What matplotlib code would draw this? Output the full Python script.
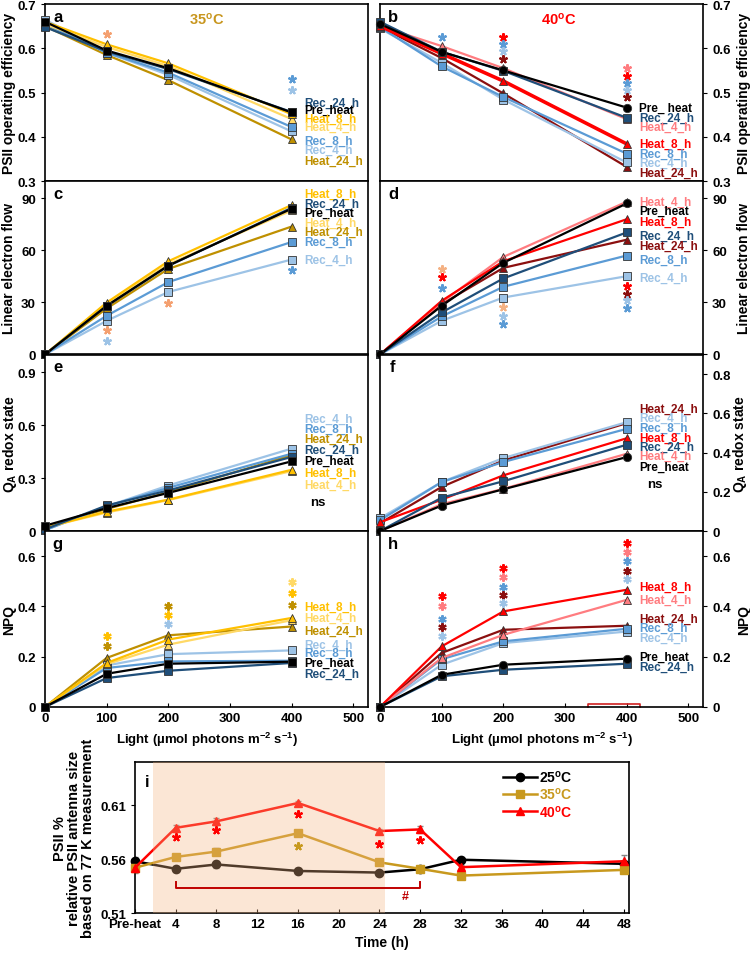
import numpy as np
import matplotlib.pyplot as plt
from matplotlib.ticker import FuncFormatter

plt.rcParams['font.family'] = ['Liberation Sans Narrow', 'Liberation Sans', 'DejaVu Sans']
plt.rcParams['font.weight'] = 'bold'
plt.rcParams['axes.labelweight'] = 'bold'
plt.rcParams['mathtext.default'] = 'regular'

light = [0, 100, 200, 400]

# ---- panel a / b : PSII operating efficiency
phi_35 = {
    'Pre_heat':  [0.660, 0.595, 0.555, 0.455],
    'Heat_4_h':  [0.655, 0.603, 0.560, 0.440],
    'Heat_8_h':  [0.660, 0.609, 0.566, 0.451],
    'Heat_24_h': [0.650, 0.585, 0.528, 0.394],
    'Rec_4_h':   [0.665, 0.590, 0.540, 0.412],
    'Rec_8_h':   [0.655, 0.590, 0.545, 0.422],
    'Rec_24_h':  [0.648, 0.593, 0.553, 0.456],
}
phi_40 = {
    'Pre_heat':  [0.655, 0.592, 0.550, 0.466],
    'Heat_4_h':  [0.650, 0.605, 0.555, 0.440],
    'Heat_8_h':  [0.650, 0.588, 0.526, 0.384],
    'Heat_24_h': [0.648, 0.578, 0.498, 0.332],
    'Rec_4_h':   [0.645, 0.567, 0.484, 0.342],
    'Rec_8_h':   [0.648, 0.559, 0.490, 0.362],
    'Rec_24_h':  [0.660, 0.592, 0.549, 0.443],
}
# ---- panel c / d : linear electron flow
lef_35 = {
    'Pre_heat':  [0, 28.0, 51.2, 84.0],
    'Heat_4_h':  [0, 29.0, 52.0, 83.0],
    'Heat_8_h':  [0, 29.9, 53.7, 86.1],
    'Heat_24_h': [0, 26.5, 49.3, 73.7],
    'Rec_4_h':   [0, 19.4, 36.0, 54.7],
    'Rec_8_h':   [0, 22.3, 41.7, 64.8],
    'Rec_24_h':  [0, 28.0, 51.0, 84.5],
}
lef_40 = {
    'Pre_heat':  [0, 28.0, 52.8, 87.0],
    'Heat_4_h':  [0, 30.0, 56.2, 88.0],
    'Heat_8_h':  [0, 30.9, 53.7, 77.9],
    'Heat_24_h': [0, 29.0, 49.9, 66.1],
    'Rec_4_h':   [0, 19.4, 32.8, 45.1],
    'Rec_8_h':   [0, 21.9, 39.0, 57.0],
    'Rec_24_h':  [0, 24.2, 43.8, 70.3],
}
# ---- panel e / f : QA redox state
qa_35 = {
    'Pre_heat':  [0.030, 0.130, 0.216, 0.395],
    'Heat_4_h':  [0.020, 0.105, 0.175, 0.340],
    'Heat_8_h':  [0.020, 0.110, 0.178, 0.347],
    'Heat_24_h': [0.025, 0.125, 0.220, 0.430],
    'Rec_4_h':   [0.005, 0.140, 0.258, 0.467],
    'Rec_8_h':   [0.005, 0.140, 0.245, 0.438],
    'Rec_24_h':  [0.010, 0.145, 0.230, 0.420],
}
qa_40 = {
    'Pre_heat':  [0.000, 0.130, 0.213, 0.377],
    'Heat_4_h':  [0.000, 0.137, 0.215, 0.394],
    'Heat_8_h':  [0.045, 0.160, 0.284, 0.473],
    'Heat_24_h': [0.040, 0.225, 0.360, 0.550],
    'Rec_4_h':   [0.065, 0.250, 0.372, 0.555],
    'Rec_8_h':   [0.055, 0.250, 0.352, 0.521],
    'Rec_24_h':  [0.000, 0.170, 0.254, 0.440],
}
# ---- panel g / h : NPQ
npq_35 = {
    'Pre_heat':  [0, 0.132, 0.172, 0.180],
    'Heat_4_h':  [0, 0.170, 0.248, 0.345],
    'Heat_8_h':  [0, 0.175, 0.268, 0.354],
    'Heat_24_h': [0, 0.195, 0.285, 0.320],
    'Rec_4_h':   [0, 0.165, 0.210, 0.225],
    'Rec_8_h':   [0, 0.155, 0.181, 0.184],
    'Rec_24_h':  [0, 0.115, 0.144, 0.175],
}
npq_40 = {
    'Pre_heat':  [0, 0.128, 0.168, 0.192],
    'Heat_4_h':  [0, 0.195, 0.287, 0.426],
    'Heat_8_h':  [0, 0.241, 0.380, 0.466],
    'Heat_24_h': [0, 0.215, 0.307, 0.323],
    'Rec_4_h':   [0, 0.168, 0.254, 0.300],
    'Rec_8_h':   [0, 0.190, 0.261, 0.311],
    'Rec_24_h':  [0, 0.122, 0.148, 0.172],
}

# label order (top to bottom) next to the 400 point and their heights
lab_a = [('Rec_24_h', 0.477), ('Pre_heat', 0.460), ('Heat_8_h', 0.441), ('Heat_4_h', 0.422),
         ('Rec_8_h', 0.392), ('Rec_4_h', 0.370), ('Heat_24_h', 0.345)]
lab_b = [('Pre_heat', 0.466), ('Rec_24_h', 0.443), ('Heat_4_h', 0.423), ('Heat_8_h', 0.384),
         ('Rec_8_h', 0.362), ('Rec_4_h', 0.342), ('Heat_24_h', 0.319)]
lab_c = [('Heat_8_h', 92.4), ('Rec_24_h', 86.7), ('Pre_heat', 81.7), ('Heat_4_h', 76.0),
         ('Heat_24_h', 70.5), ('Rec_8_h', 64.8), ('Rec_4_h', 54.7)]
lab_d = [('Heat_4_h', 88.0), ('Pre_heat', 82.9), ('Heat_8_h', 76.6), ('Rec_24_h', 68.4),
         ('Heat_24_h', 62.7), ('Rec_8_h', 54.7), ('Rec_4_h', 44.2)]
lab_e = [('Rec_4_h', 0.638), ('Rec_8_h', 0.577), ('Heat_24_h', 0.520), ('Rec_24_h', 0.463),
         ('Pre_heat', 0.397), ('Heat_8_h', 0.330), ('Heat_4_h', 0.264)]
lab_f = [('Heat_24_h', 0.625), ('Rec_4_h', 0.575), ('Rec_8_h', 0.524), ('Heat_8_h', 0.475),
         ('Rec_24_h', 0.428), ('Heat_4_h', 0.382), ('Pre_heat', 0.326)]
lab_g = [('Heat_8_h', 0.397), ('Heat_4_h', 0.354), ('Heat_24_h', 0.303), ('Rec_4_h', 0.248),
         ('Rec_8_h', 0.215), ('Pre_heat', 0.175), ('Rec_24_h', 0.132)]
lab_h = [('Heat_8_h', 0.477), ('Heat_4_h', 0.426), ('Heat_24_h', 0.350), ('Rec_8_h', 0.314),
         ('Rec_4_h', 0.274), ('Pre_heat', 0.199), ('Rec_24_h', 0.159)]

# significance asterisks (light, value, colour key)
star_a = [(100, 0.632, 'orange'), (400, 0.530, 'Rec_8_h'), (400, 0.506, 'Rec_4_h')]
star_b = [(100, 0.626, 'Rec_8_h'),
          (200, 0.626, 'Heat_8_h'), (200, 0.610, 'Rec_8_h'), (200, 0.593, 'Rec_4_h'), (200, 0.576, 'Heat_24_h'),
          (400, 0.555, 'Heat_4_h'), (400, 0.538, 'Heat_8_h'), (400, 0.521, 'Rec_8_h'),
          (400, 0.505, 'Rec_4_h'), (400, 0.490, 'Heat_24_h')]
star_c = [(100, 14.1, 'orange'), (100, 7.6, 'Rec_4_h'), (200, 29.5, 'orange'), (400, 48.6, 'Rec_8_h')]
star_d = [(100, 49.3, 'peach'), (100, 44.6, 'Heat_8_h'), (100, 38.5, 'Rec_8_h'),
          (200, 27.4, 'peach'), (200, 22.3, 'Rec_4_h'), (200, 17.5, 'Rec_8_h'),
          (400, 39.4, 'Heat_8_h'), (400, 35.0, 'Heat_24_h'), (400, 31.2, 'Rec_4_h'), (400, 27.0, 'Rec_8_h')]
star_g = [(100, 0.283, 'Heat_8_h'), (100, 0.241, 'Heat_24_h'),
          (200, 0.400, 'Heat_24_h'), (200, 0.367, 'Heat_8_h'), (200, 0.331, 'Rec_4_h'),
          (400, 0.495, 'Heat_4_h'), (400, 0.453, 'Heat_8_h'), (400, 0.407, 'Heat_24_h')]
star_h = [(100, 0.440, 'Heat_8_h'), (100, 0.400, 'Heat_4_h'), (100, 0.351, 'Rec_8_h'),
          (100, 0.317, 'Heat_24_h'), (100, 0.283, 'Rec_4_h'),
          (200, 0.552, 'Heat_8_h'), (200, 0.517, 'Heat_4_h'), (200, 0.479, 'Rec_8_h'),
          (200, 0.444, 'Heat_24_h'), (200, 0.413, 'Rec_4_h'),
          (400, 0.654, 'Heat_8_h'), (400, 0.616, 'Heat_4_h'), (400, 0.579, 'Rec_8_h'),
          (400, 0.542, 'Heat_24_h'), (400, 0.510, 'Rec_4_h')]

# ---- panel i : relative PSII antenna size
time_h = [0, 4, 8, 16, 24, 28, 32, 48]
ant_25 = [0.558, 0.551, 0.555, 0.549, 0.5475, 0.5506, 0.5594, 0.5556]
ant_35 = [0.552, 0.562, 0.567, 0.584, 0.557, 0.551, 0.5447, 0.550]
ant_40 = [0.552, 0.589, 0.595, 0.612, 0.586, 0.5875, 0.5525, 0.558]
err_25 = [0.004, 0.003, 0.003, 0.003, 0.002, 0.002, 0.002, 0.002]
err_35 = [0.004, 0.002, 0.003, 0.002, 0.002, 0.002, 0.002, 0.002]
err_40 = [0.005, 0.003, 0.003, 0.002, 0.002, 0.003, 0.002, 0.006]
star_i = [(4, 0.5806, '40'), (8, 0.5869, '40'), (16, 0.6016, '40'), (24, 0.5744, '40'),
          (28, 0.578, '40'), (16, 0.5725, '35')]

base_col = {'Pre_heat': '#000000', 'Rec_4_h': '#9DC3E6', 'Rec_8_h': '#5B9BD5', 'Rec_24_h': '#1F4E79',
            'orange': '#F4A070', 'peach': '#F4B183'}
col_35 = dict(base_col, Heat_4_h='#FFD966', Heat_8_h='#FFC000', Heat_24_h='#BF9000')
col_40 = dict(base_col, Heat_4_h='#FF7C80', Heat_8_h='#FF0000', Heat_24_h='#8B0F0F')
i_col = {'25': '#000000', '35': '#C8991E', '40': '#FF0000'}

fig = plt.figure(figsize=(7.5, 9.54), dpi=100)

L, R, W = 0.060, 0.5067, 0.4307
rows = [(0.8092, 0.1855), (0.6274, 0.1819), (0.4423, 0.1850), (0.2579, 0.1845)]

panels = [
    ('a', phi_35, lab_a, star_a, col_35, 0, 0, (0.3, 0.7), [0.3, 0.4, 0.5, 0.6, 0.7], 'PSII operating efficiency'),
    ('b', phi_40, lab_b, star_b, col_40, 1, 0, (0.3, 0.7), [0.3, 0.4, 0.5, 0.6, 0.7], 'PSII operating efficiency'),
    ('c', lef_35, lab_c, star_c, col_35, 0, 1, (0, 100), [0, 30, 60, 90], 'Linear electron flow'),
    ('d', lef_40, lab_d, star_d, col_40, 1, 1, (0, 100), [0, 30, 60, 90], 'Linear electron flow'),
    ('e', qa_35, lab_e, [], col_35, 0, 2, (0, 1.0), [0, 0.3, 0.6, 0.9], 'Q$_A$ redox state'),
    ('f', qa_40, lab_f, [], col_40, 1, 2, (0, 0.9), [0, 0.2, 0.4, 0.6, 0.8], 'Q$_A$ redox state'),
    ('g', npq_35, lab_g, star_g, col_35, 0, 3, (0, 0.7), [0, 0.2, 0.4, 0.6], 'NPQ'),
    ('h', npq_40, lab_h, star_h, col_40, 1, 3, (0, 0.7), [0, 0.2, 0.4, 0.6], 'NPQ'),
]

draw_order = ['Heat_24_h', 'Rec_4_h', 'Rec_8_h', 'Heat_4_h', 'Heat_8_h', 'Rec_24_h', 'Pre_heat']

for letter, vals, labs, stars, cols, col, row, ylim, yticks, ylab in panels:
    b, h = rows[row]
    ax = fig.add_axes([L if col == 0 else R, b, W, h])
    for name in draw_order:
        if name.startswith('Heat'):
            mk = '^'
        elif name.startswith('Rec'):
            mk = 's'
        else:
            mk = 's' if col == 0 else 'o'
        lw = 2.6 if (letter == 'b' and name == 'Heat_8_h') else 1.6
        ax.plot(light, vals[name], color=cols[name], lw=lw, marker=mk, ms=6,
                mec='#333333', mew=0.6, clip_on=False, zorder=3)
    for name, yy in labs:
        txt = 'Pre_ heat' if (letter == 'b' and name == 'Pre_heat') else name
        ax.text(420, yy, txt, color=cols[name], fontsize=8.5, va='center', ha='left')
    # 5-arm asterisks in the upper panels, 6-arm ones in NPQ panels
    arms = 6 if letter in 'gh' else 5
    for x, yy, key in stars:
        ax.plot(x, yy, marker=(arms, 2, 0), ms=6, mew=1.5, color=cols[key], ls='none', zorder=4)
    ax.set_xlim(0, 524)
    ax.set_ylim(*ylim)
    ax.set_yticks(yticks)
    ax.yaxis.set_major_formatter(FuncFormatter(lambda v, p: f'{v:g}'))
    ax.tick_params(axis='y', direction='out', labelsize=9.5, length=3)
    # subscripted label needs a little more room
    shift = 0.018 if letter in 'ef' else 0.0
    if col == 1:
        ax.yaxis.tick_right()
        ax.yaxis.set_label_position('right')
        ax.set_ylabel(ylab, fontsize=10)
        ax.yaxis.set_label_coords(1.106 - shift, 0.5)
    else:
        ax.set_ylabel(ylab, fontsize=10)
        ax.yaxis.set_label_coords(-0.09 + 0.01 * (letter == 'e'), 0.5)
    if row < 3:
        ax.set_xticks([])
    else:
        ax.set_xticks([0, 100, 200, 300, 400, 500])
        ax.tick_params(axis='x', direction='in', labelsize=9.5, length=3)
        ax.set_xlabel('Light (µmol photons m$^{-2}$ s$^{-1}$)', fontsize=9.5)
    for s in ax.spines.values():
        s.set_linewidth(1.2)
    ax.text(0.04, 0.93, letter, transform=ax.transAxes, fontsize=12, va='center', ha='center')
    if letter == 'a':
        ax.text(262, 0.668, '35$^{o}$C', color='#C8961E', fontsize=10.5, ha='center', va='center')
    if letter == 'b':
        ax.text(289, 0.668, '40$^{o}$C', color='#FF0000', fontsize=10.5, ha='center', va='center')
    if letter == 'e':
        ax.text(443, 0.163, 'ns', fontsize=9.5, ha='center', va='center')
    if letter == 'f':
        ax.text(446, 0.242, 'ns', fontsize=9.5, ha='center', va='center')
    if letter == 'h':
        ax.plot([338, 338, 422, 422], [0, 0.012, 0.012, 0], color='#D02020', lw=1.2, clip_on=False)

# ---- panel i
ax = fig.add_axes([0.18, 0.0419, 0.6587, 0.1583])
handles = []
for key, vals, errs, mk in [('25', ant_25, err_25, 'o'), ('35', ant_35, err_35, 's'), ('40', ant_40, err_40, '^')]:
    ax.errorbar(time_h, vals, yerr=errs, fmt='none', ecolor='#888888', capsize=2, lw=1, zorder=2)
    ln, = ax.plot(time_h, vals, color=i_col[key], marker=mk, ms=6, lw=1.8,
                  label=key + '$^{o}$C', zorder=3, clip_on=False)
    handles.append(ln)
ax.axvspan(1.8, 24.5, color='#F5B482', alpha=0.33, lw=0, zorder=4)
for x, yy, key in star_i:
    ax.plot(x, yy, marker=(5, 2, 0), ms=6, mew=1.5, color=i_col[key], ls='none', zorder=5)
ax.plot([4, 4, 28, 28], [0.539, 0.533, 0.533, 0.539], color='#C00000', lw=1.4, zorder=5)
ax.text(26.5, 0.5255, '#', color='#C00000', fontsize=9, ha='center', va='center', zorder=5)
ax.text(0.025, 0.87, 'i', transform=ax.transAxes, fontsize=12, va='center', ha='center', zorder=6)
ax.set_xlim(0, 48.5)
ax.set_ylim(0.51, 0.65)
ax.set_xticks(list(range(0, 49, 4)))
ax.set_xticklabels(['Pre-heat'] + [str(t) for t in range(4, 49, 4)])
ax.set_yticks([0.51, 0.56, 0.61])
ax.tick_params(axis='x', direction='in', labelsize=9.5, length=3)
ax.tick_params(axis='y', direction='out', labelsize=9.5, length=3)
for s in ax.spines.values():
    s.set_linewidth(1.2)
ax.set_xlabel('Time (h)', fontsize=10)
ax.set_ylabel('PSII %\nrelative PSII antenna size\nbased on 77 K measurement', fontsize=10.5, linespacing=1.0)
leg = ax.legend(handles=handles, loc='upper left', bbox_to_anchor=(0.72, 1.04), frameon=False, fontsize=10,
                handlelength=2.4, handletextpad=0.2, labelspacing=0.1)
for t, c in zip(leg.get_texts(), ['25', '35', '40']):
    t.set_color(i_col[c])

fig.savefig('out.png', dpi=100)
